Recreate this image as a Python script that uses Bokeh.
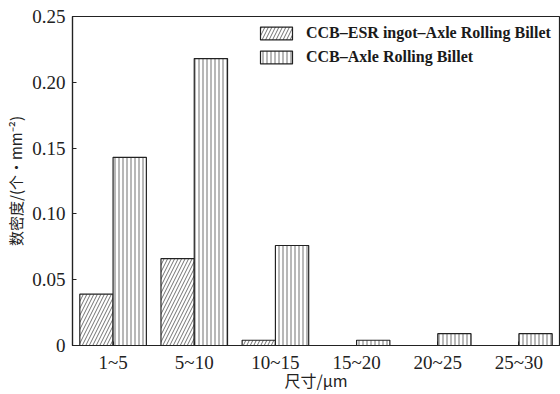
from bokeh.plotting import figure
from bokeh.models import ColumnDataSource, FactorRange, FixedTicker, Legend, LegendItem, Range1d
from bokeh.transform import dodge
from bokeh.embed import file_html
from bokeh.resources import INLINE

categories = ["1~5", "5~10", "10~15", "15~20", "20~25", "25~30"]
esr_values = [0.039, 0.066, 0.004, 0.0, 0.0, 0.0]
ccb_values = [0.143, 0.218, 0.076, 0.004, 0.009, 0.009]
y_ticks = [0, 0.05, 0.10, 0.15, 0.20, 0.25]
y_tick_labels = ["0", "0.05", "0.10", "0.15", "0.20", "0.25"]
series_names = ["CCB\u2013ESR ingot\u2013Axle Rolling Billet", "CCB\u2013Axle Rolling Billet"]

source = ColumnDataSource(dict(cat=categories, esr=esr_values, ccb=ccb_values))

p = figure(x_range=FactorRange(*categories, range_padding=0), y_range=Range1d(0, 0.25),
           width=560, height=394, output_backend="svg", toolbar_location=None,
           min_border_left=72, min_border_right=1, min_border_top=16, min_border_bottom=48)

p.background_fill_color = "white"
p.border_fill_color = "white"
p.outline_line_color = "#222222"
p.outline_line_width = 1.2
p.grid.visible = False

serif = "Liberation Serif"

r1 = p.vbar(x=dodge("cat", -0.205, range=p.x_range), top="esr", width=0.41, source=source,
            fill_color="white", line_color="#222222", line_width=1.2,
            hatch_pattern="/", hatch_color="#333333", hatch_weight=0.7, hatch_scale=7)
r2 = p.vbar(x=dodge("cat", 0.205, range=p.x_range), top="ccb", width=0.41, source=source,
            fill_color="white", line_color="#222222", line_width=1.2,
            hatch_pattern="|", hatch_color="#333333", hatch_weight=0.7, hatch_scale=4)

legend = Legend(items=[LegendItem(label=series_names[0], renderers=[r1]),
                       LegendItem(label=series_names[1], renderers=[r2])],
                location=(184, 279), padding=0, margin=0, spacing=6,
                glyph_width=40, glyph_height=16, label_height=16, label_standoff=10,
                label_text_font=serif, label_text_font_style="bold", label_text_font_size="16px",
                label_text_color="#1a1a1a",
                border_line_color=None, background_fill_alpha=0)
p.add_layout(legend, "center")

for ax in (p.xaxis[0], p.yaxis[0]):
    ax.axis_line_color = "#222222"
    ax.axis_line_width = 1.2
    ax.major_tick_in = 4
    ax.major_tick_out = 0
    ax.major_tick_line_color = "#222222"
    ax.minor_tick_line_color = None
    ax.major_label_text_font = serif
    ax.major_label_text_font_size = "19px"
    ax.major_label_text_color = "#222222"
    ax.axis_label_text_font = "Noto Sans CJK SC"
    ax.axis_label_text_font_style = "normal"
    ax.axis_label_text_font_size = "16px"
    ax.axis_label_text_color = "#222222"

p.yaxis.ticker = FixedTicker(ticks=y_ticks)
p.yaxis.major_label_overrides = {t: l for t, l in zip(y_ticks, y_tick_labels)}
p.yaxis.major_label_standoff = 7
p.yaxis.axis_label = "数密度/(个·mm\u207b\u00b2)"
p.yaxis.axis_label_text_font_size = "15px"
p.yaxis.axis_label_standoff = 3

p.xaxis.major_label_standoff = 6
p.xaxis.axis_label = "尺寸/μm"
p.xaxis.axis_label_standoff = -8

open("out.html", "w").write(file_html(p, INLINE))
